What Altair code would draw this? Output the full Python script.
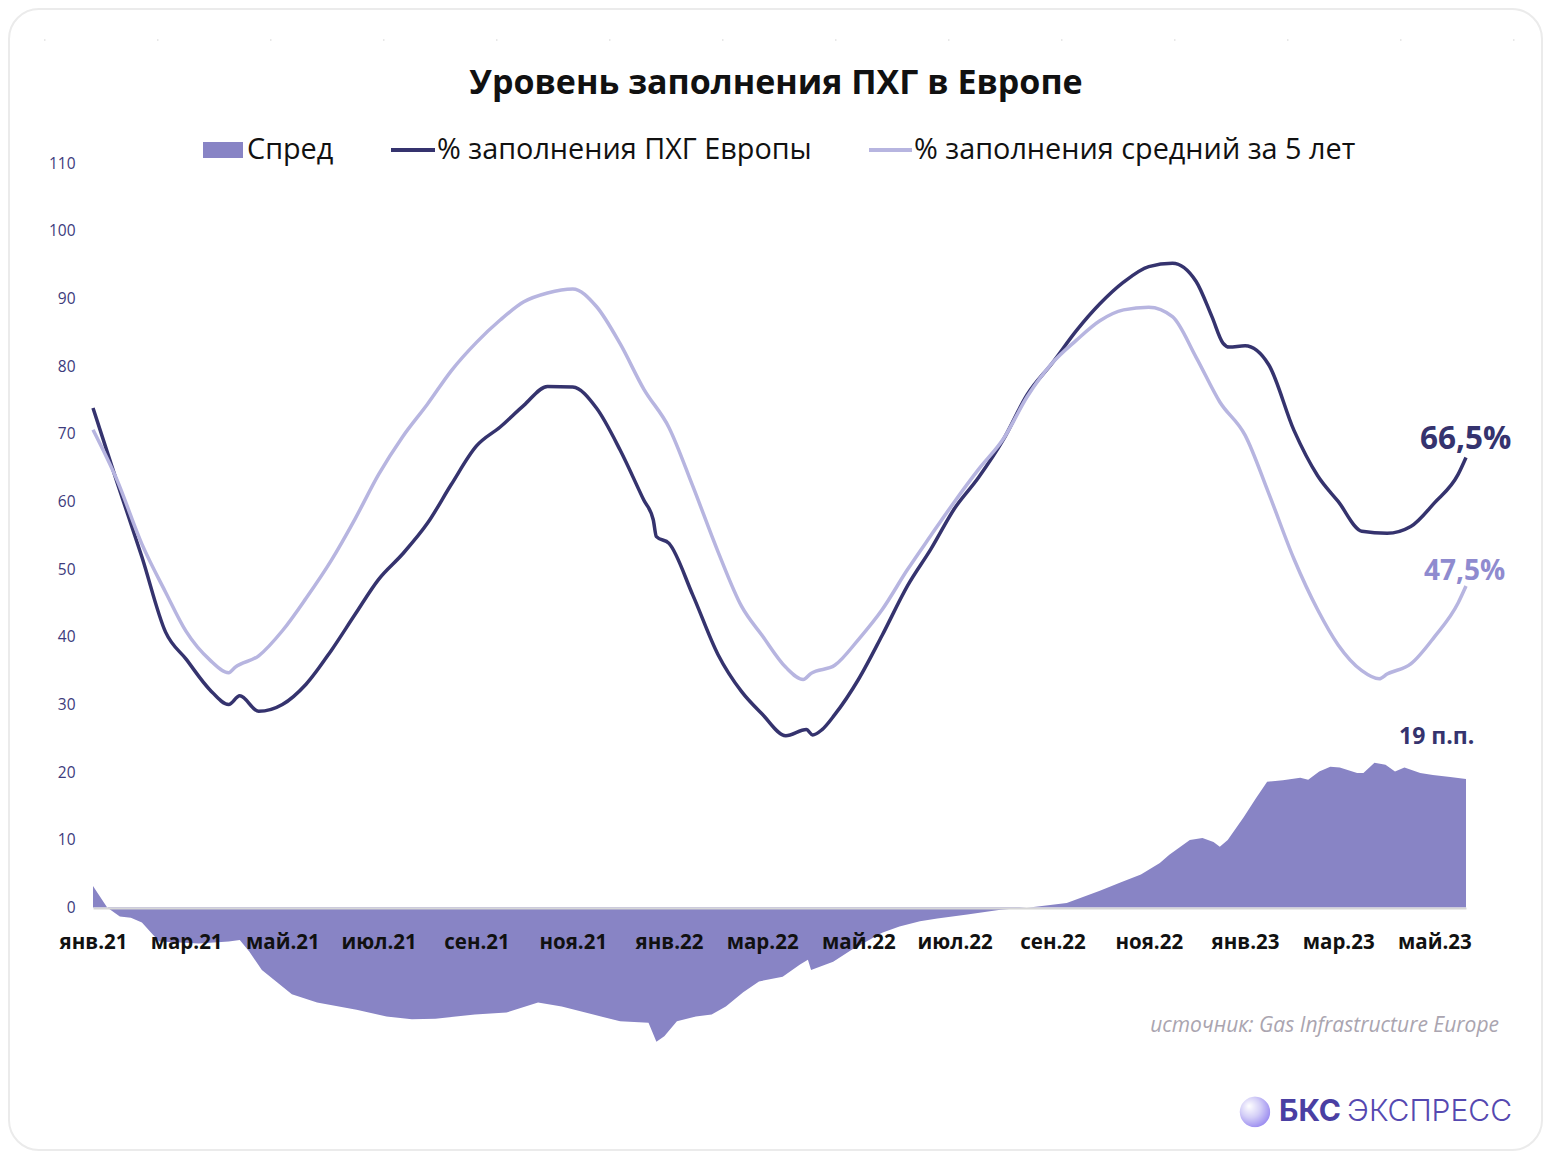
import altair as alt
import pandas as pd

# ---------------- data ----------------
ACTUAL_DATES = [
    "2021-01-01", "2021-01-16", "2021-02-01", "2021-02-16", "2021-03-01", "2021-03-16",
    "2021-03-28", "2021-04-04", "2021-04-16", "2021-05-01", "2021-05-16", "2021-06-01",
    "2021-06-16", "2021-07-01", "2021-07-16", "2021-08-01", "2021-08-16", "2021-09-01",
    "2021-09-16", "2021-10-01", "2021-10-16", "2021-11-01", "2021-11-16", "2021-12-01",
    "2021-12-16", "2021-12-22", "2021-12-24", "2022-01-01", "2022-01-16", "2022-02-01",
    "2022-02-16", "2022-03-01", "2022-03-16", "2022-03-29", "2022-04-02", "2022-04-08",
    "2022-04-16", "2022-05-01", "2022-05-16", "2022-06-01", "2022-06-16", "2022-07-01",
    "2022-07-16", "2022-08-01", "2022-08-16", "2022-09-01", "2022-09-16", "2022-10-01",
    "2022-10-16", "2022-11-01", "2022-11-16", "2022-12-01", "2022-12-11", "2022-12-18",
    "2022-12-22", "2023-01-01", "2023-01-16", "2023-02-01", "2023-02-16", "2023-03-01",
    "2023-03-16", "2023-04-01", "2023-04-16", "2023-05-01", "2023-05-16", "2023-05-21",
]
ACTUAL = [
    73.8, 63.0, 51.8, 40.7, 36.7, 32.2,
    30.0, 31.3, 29.0, 30.0, 33.0, 38.0,
    43.3, 48.5, 52.2, 56.8, 62.5, 68.2,
    71.0, 74.2, 77.0, 76.9, 73.8, 67.6,
    60.2, 57.3, 54.8, 53.8, 46.2, 37.4,
    31.9, 28.6, 25.4, 26.3, 25.5, 26.3,
    28.5, 33.7, 40.2, 47.5, 53.0, 59.0,
    63.5, 69.2, 75.8, 80.5, 85.2, 89.2,
    92.4, 94.7, 95.2, 92.5, 87.3, 83.4,
    82.8, 83.0, 80.2, 70.5, 63.8, 60.0,
    55.6, 55.3, 56.3, 59.8, 64.0, 66.5,
]

AVG_DATES = [
    "2021-01-01", "2021-01-16", "2021-02-01", "2021-02-16", "2021-03-01", "2021-03-16",
    "2021-03-28", "2021-04-01", "2021-04-16", "2021-05-01", "2021-05-16", "2021-06-01",
    "2021-06-16", "2021-07-01", "2021-07-16", "2021-08-01", "2021-08-16", "2021-09-01",
    "2021-09-16", "2021-10-01", "2021-10-16", "2021-11-01", "2021-11-16", "2021-12-01",
    "2021-12-16", "2022-01-01", "2022-01-16", "2022-02-01", "2022-02-16", "2022-03-01",
    "2022-03-16", "2022-03-27", "2022-04-01", "2022-04-16", "2022-05-01", "2022-05-16",
    "2022-06-01", "2022-06-16", "2022-07-01", "2022-07-16", "2022-08-01", "2022-08-16",
    "2022-09-01", "2022-09-16", "2022-10-01", "2022-10-16", "2022-11-01", "2022-11-16",
    "2022-12-01", "2022-12-16", "2023-01-01", "2023-01-16", "2023-02-01", "2023-02-16",
    "2023-03-01", "2023-03-16", "2023-03-27", "2023-04-01", "2023-04-16", "2023-05-01",
    "2023-05-16", "2023-05-21",
]
AVG = [
    70.6, 63.3, 53.7, 46.6, 40.8, 36.6,
    34.7, 35.5, 37.2, 40.9, 45.7, 51.3,
    57.4, 64.0, 69.5, 74.4, 79.3, 83.5,
    86.8, 89.5, 90.8, 91.4, 88.8, 83.3,
    76.6, 70.9, 62.3, 52.6, 44.5, 40.2,
    35.5, 33.7, 34.6, 35.8, 39.6, 44.0,
    49.9, 55.0, 60.0, 64.7, 69.3, 75.5,
    80.5, 83.8, 86.7, 88.3, 88.7, 87.3,
    81.3, 74.7, 69.8, 61.2, 51.5, 44.0,
    38.8, 35.0, 33.8, 34.5, 36.0, 40.0,
    45.0, 47.5,
]

SPREAD_DATES = [
    "2021-01-01", "2021-01-10", "2021-01-18", "2021-01-25", "2021-02-01", "2021-02-08",
    "2021-02-12", "2021-03-09", "2021-03-28", "2021-04-04", "2021-04-10", "2021-04-18",
    "2021-04-28", "2021-05-07", "2021-05-23", "2021-06-17", "2021-07-06", "2021-07-22",
    "2021-08-06", "2021-08-31", "2021-09-20", "2021-10-10", "2021-10-25", "2021-11-14",
    "2021-12-01", "2021-12-19", "2021-12-24", "2021-12-29", "2022-01-06", "2022-01-18",
    "2022-01-28", "2022-02-06", "2022-02-17", "2022-02-27", "2022-03-14", "2022-03-25",
    "2022-03-30", "2022-04-01", "2022-04-15", "2022-04-27", "2022-05-16", "2022-05-27",
    "2022-06-09", "2022-06-20", "2022-07-09", "2022-07-30", "2022-08-20", "2022-09-10",
    "2022-10-01", "2022-10-14", "2022-10-27", "2022-11-08", "2022-11-14", "2022-11-27",
    "2022-12-05", "2022-12-12", "2022-12-16", "2022-12-21", "2022-12-31", "2023-01-08",
    "2023-01-15", "2023-01-25", "2023-02-05", "2023-02-10", "2023-02-17", "2023-02-24",
    "2023-03-02", "2023-03-13", "2023-03-17", "2023-03-24", "2023-03-31", "2023-04-06",
    "2023-04-12", "2023-04-22", "2023-04-30", "2023-05-11", "2023-05-21",
]
SPREAD = [
    3.2, 0.0, -1.3, -1.5, -2.2, -4.0,
    -5.0, -5.3, -5.0, -4.8, -6.5, -9.2,
    -11.1, -12.8, -14.0, -15.1, -16.1, -16.5,
    -16.4, -15.8, -15.5, -14.0, -14.6, -15.8,
    -16.8, -17.0, -19.8, -19.0, -16.8, -16.1,
    -15.8, -14.6, -12.5, -10.9, -10.2, -8.4,
    -7.7, -9.2, -8.0, -6.2, -3.7, -2.8,
    -2.0, -1.6, -1.0, -0.3, 0.1, 0.7,
    2.5, 3.7, 4.9, 6.6, 7.8, 10.0,
    10.3, 9.7, 9.0, 10.0, 13.3, 16.2,
    18.6, 18.8, 19.2, 18.9, 20.1, 20.8,
    20.7, 19.9, 19.9, 21.4, 21.1, 20.1,
    20.7, 19.9, 19.6, 19.3, 19.0,
]

MONTHS_RU = ["янв", "фев", "мар", "апр", "май", "июн", "июл", "авг", "сен", "окт", "ноя", "дек"]
Y_TICKS = [0, 10, 20, 30, 40, 50, 60, 70, 80, 90, 100, 110]
TITLE = "Уровень заполнения ПХГ в Европе"
LEGEND_LABELS = ["Спред", "% заполнения ПХГ Европы", "% заполнения средний за 5 лет"]
LAST_ACTUAL_LABEL = "66,5%"
LAST_AVG_LABEL = "47,5%"
LAST_SPREAD_LABEL = "19 п.п."
SOURCE = "источник: Gas Infrastructure Europe"
BRAND_BOLD = "БКС"
BRAND_LIGHT = "ЭКСПРЕСС"

# ---------------- styling ----------------
C_DARK = "#35336e"
C_LIGHT = "#b7b5e0"
C_AREA = "#8884c5"
FONT = "Open Sans"

W, H = 1373, 880

actual_df = pd.DataFrame({"date": ACTUAL_DATES, "value": ACTUAL})
avg_df = pd.DataFrame({"date": AVG_DATES, "value": AVG})
spread_df = pd.DataFrame({"date": SPREAD_DATES, "value": SPREAD})

tick_values = []
for yr in (2021, 2022, 2023):
    for m in (1, 3, 5, 7, 9, 11):
        if yr == 2023 and m > 5:
            continue
        tick_values.append(alt.DateTime(year=yr, month=m, date=1, utc=True))

months_js = "[" + ",".join("'%s'" % m for m in MONTHS_RU) + "]"
label_expr = months_js + "[utcmonth(datum.value)] + '.' + utcFormat(datum.value, '%y')"

x_scale = alt.Scale(
    type="utc",
    domain=[alt.DateTime(year=2021, month=1, date=1, utc=True),
            alt.DateTime(year=2023, month=5, date=21, utc=True)],
    nice=False,
)
y_scale = alt.Scale(domain=[-20, 110], nice=False, zero=False)

x_axis = alt.Axis(
    values=tick_values, labelExpr=label_expr, title=None, grid=False, ticks=False,
    tickSize=0, domain=True, domainColor="#d6d6d6", domainWidth=2, offset=-135,
    labelFont=FONT, labelFontSize=20.5, labelFontWeight="bold", labelColor="#111111",
    labelPadding=34, labelBaseline="middle", labelFlush=False, labelOverlap=False,
    zindex=1,
)
y_axis = alt.Axis(
    values=Y_TICKS, title=None, grid=False, ticks=False, tickSize=0, domain=False,
    labelFont=FONT, labelFontSize=15.5, labelColor="#3d3b7c", labelPadding=18,
)

area = alt.Chart(spread_df).mark_area(color=C_AREA, opacity=1, interpolate="linear").encode(
    x=alt.X("date:T", scale=x_scale, axis=x_axis),
    y=alt.Y("value:Q", scale=y_scale, axis=y_axis),
    y2=alt.datum(0),
)
dark_line = alt.Chart(actual_df).mark_line(
    color=C_DARK, strokeWidth=3.5, interpolate="monotone"
).encode(x=alt.X("date:T", scale=x_scale), y=alt.Y("value:Q", scale=y_scale))
light_line = alt.Chart(avg_df).mark_line(
    color=C_LIGHT, strokeWidth=3.5, interpolate="monotone"
).encode(x=alt.X("date:T", scale=x_scale), y=alt.Y("value:Q", scale=y_scale))

one = pd.DataFrame({"k": [0]})


def label(text, x, y, size, color, weight="normal", align="left", style="normal", font=FONT):
    return alt.Chart(pd.DataFrame({"t": [text]})).mark_text(
        align=align, baseline="middle", fontSize=size, fontWeight=weight, color=color,
        font=font, fontStyle=style,
    ).encode(text="t:N", x=alt.value(x), y=alt.value(y))


# card border and faint dotted top line
card = alt.Chart(one).mark_rect(
    fillOpacity=0, stroke="#ebebeb", strokeWidth=2, cornerRadius=30
).encode(x=alt.value(-84), x2=alt.value(1449), y=alt.value(-154), y2=alt.value(987))
dots = alt.Chart(one).mark_rule(color="#d2d2d2", strokeWidth=1.2, strokeDash=[1.5, 111.5]).encode(
    x=alt.value(-49), x2=alt.value(1422), y=alt.value(-123)
)

title = label(TITLE, 683, -79, 34, "#111111", weight="bold", align="center")

# manual legend
leg_rect = alt.Chart(one).mark_rect(color=C_AREA).encode(
    x=alt.value(110), x2=alt.value(150), y=alt.value(-21), y2=alt.value(-5)
)
leg_dark = alt.Chart(one).mark_rule(color=C_DARK, strokeWidth=4).encode(
    x=alt.value(298), x2=alt.value(342), y=alt.value(-13)
)
leg_light = alt.Chart(one).mark_rule(color=C_LIGHT, strokeWidth=4).encode(
    x=alt.value(776), x2=alt.value(819), y=alt.value(-13)
)
leg_t1 = label(LEGEND_LABELS[0], 154, -13, 28.8, "#111111")
leg_t2 = label(LEGEND_LABELS[1], 344, -13, 28.8, "#111111")
leg_t3 = label(LEGEND_LABELS[2], 821, -13, 28.8, "#111111")

ann1 = label(LAST_ACTUAL_LABEL, 1327, 277, 31.5, C_DARK, weight="bold")
ann2 = label(LAST_AVG_LABEL, 1331, 409, 28, "#8f8bcf", weight="bold")
ann3 = label(LAST_SPREAD_LABEL, 1306, 574, 23, C_DARK, weight="bold")

source = label(SOURCE, 1406, 863, 21, "#aaa5b0", align="right", style="italic")

sphere = alt.Chart(one).mark_circle(
    size=920, opacity=1,
    fill=alt.RadialGradient(
        gradient="radial",
        stops=[alt.GradientStop(offset=0, color="#ffffff"),
               alt.GradientStop(offset=0.45, color="#d4cff7"),
               alt.GradientStop(offset=1, color="#8a78ee")],
        x1=0.3, y1=0.3, r1=0.0, x2=0.4, y2=0.4, r2=0.75,
    ),
).encode(x=alt.value(1162), y=alt.value(949))
brand1 = label(BRAND_BOLD, 1186, 949, 30, "#4a3fa3", weight="bold", font="Inter")
brand2 = label(BRAND_LIGHT, 1419, 949, 30, "#5548b0", weight=300, align="right", font="Inter")

chart = alt.layer(
    card, dots, area, dark_line, light_line,
    title, leg_rect, leg_dark, leg_light, leg_t1, leg_t2, leg_t3,
    ann1, ann2, ann3, source, sphere, brand1, brand2,
).properties(
    width=W, height=H,
    padding={"left": 85, "top": 155, "right": 78, "bottom": 110},
    autosize=alt.AutoSizeParams(type="none"),
    background="white",
).configure_view(strokeWidth=0)

chart.save("out.html", embed_options={"renderer": "svg", "actions": False})
